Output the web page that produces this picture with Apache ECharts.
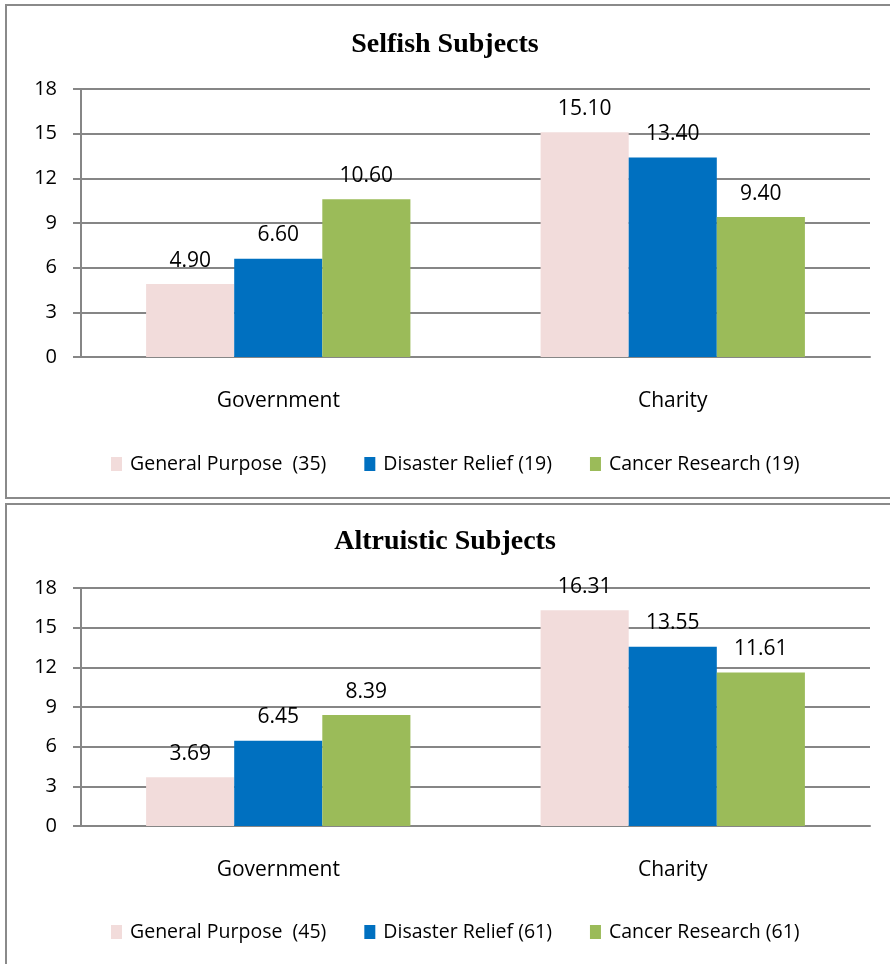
<!DOCTYPE html>
<html>
<head>
<meta charset="utf-8">
<script src="https://cdn.jsdelivr.net/npm/echarts@6/dist/echarts.min.js"></script>
<style>
  html, body { margin: 0; padding: 0; background: #fff; }
  body { width: 890px; height: 964px; position: relative; overflow: hidden; }
  .panel { position: absolute; border: 2px solid #8a8a8a; box-sizing: border-box; background: #fff; }
  #p1 { left: 5px; top: 4px; width: 940px; height: 495px; }
  #p2 { left: 5px; top: 503px; width: 940px; height: 480px; }
  #chart { position: absolute; left: 0; top: 0; width: 890px; height: 964px; }
</style>
</head>
<body>
<div class="panel" id="p1"></div>
<div class="panel" id="p2"></div>
<div id="chart"></div>
<script>
const categories = ['Government', 'Charity'];
const yTicks = { min: 0, max: 18, interval: 3 };

const selfishTitle = 'Selfish Subjects';
const selfishNames = ['General Purpose  (35)', 'Disaster Relief (19)', 'Cancer Research (19)'];
const selfishGeneral = [4.90, 15.10];
const selfishDisaster = [6.60, 13.40];
const selfishCancer = [10.60, 9.40];

const altruTitle = 'Altruistic Subjects';
const altruNames = ['General Purpose  (45)', 'Disaster Relief (61)', 'Cancer Research (61)'];
const altruGeneral = [3.69, 16.31];
const altruDisaster = [6.45, 13.55];
const altruCancer = [8.39, 11.61];

const colors = ['#F2DCDB', '#0070C0', '#9BBB59'];
const gridColor = '#868686';
const font = 'Open Sans';

function xAxis(gi) {
  return {
    type: 'category', gridIndex: gi, data: categories,
    axisLine: { show: true, lineStyle: { color: gridColor, width: 2 } },
    axisTick: { show: false },
    axisLabel: { color: '#000', fontSize: 21, fontFamily: font, margin: 34 }
  };
}
function yAxis(gi) {
  return {
    type: 'value', gridIndex: gi, min: yTicks.min, max: yTicks.max, interval: yTicks.interval,
    axisLine: { show: true, lineStyle: { color: gridColor, width: 2 } },
    axisTick: { show: true, length: 8, lineStyle: { color: gridColor, width: 2 } },
    splitLine: { show: true, lineStyle: { color: gridColor, width: 2 } },
    axisLabel: { color: '#000', fontSize: 20, fontFamily: font, margin: 24 }
  };
}
function bar(name, data, ci, gi) {
  return {
    type: 'bar', name: name, data: data, xAxisIndex: gi, yAxisIndex: gi,
    barGap: '0%', barCategoryGap: '33%',
    itemStyle: { color: colors[ci] },
    label: {
      show: true, position: 'top', distance: 13, color: '#000',
      fontSize: 21, fontFamily: font,
      formatter: p => p.value.toFixed(2)
    },
    emphasis: { disabled: true }
  };
}
function legend(names, top) {
  return {
    data: names, top: top, left: 106, itemGap: 38, itemWidth: 11, itemHeight: 14,
    icon: 'rect',
    textStyle: { color: '#000', fontSize: 19.5, fontFamily: font, padding: [0, 0, 0, 3] }
  };
}

const chart = echarts.init(document.getElementById('chart'), null, { renderer: 'canvas' });
chart.setOption({
  animation: false,
  backgroundColor: 'transparent',
  title: [
    { text: selfishTitle, left: 'center', top: 26,
      textStyle: { fontFamily: 'Liberation Serif', fontWeight: 'bold', fontSize: 28, color: '#000' } },
    { text: altruTitle, left: 'center', top: 523,
      textStyle: { fontFamily: 'Liberation Serif', fontWeight: 'bold', fontSize: 28, color: '#000' } }
  ],
  legend: [legend(selfishNames, 449), legend(altruNames, 917)],
  grid: [
    { left: 81, right: 20, top: 89, height: 268 },
    { left: 81, right: 20, top: 588, height: 238 }
  ],
  xAxis: [xAxis(0), xAxis(1)],
  yAxis: [yAxis(0), yAxis(1)],
  series: [
    bar(selfishNames[0], selfishGeneral, 0, 0),
    bar(selfishNames[1], selfishDisaster, 1, 0),
    bar(selfishNames[2], selfishCancer, 2, 0),
    bar(altruNames[0], altruGeneral, 0, 1),
    bar(altruNames[1], altruDisaster, 1, 1),
    bar(altruNames[2], altruCancer, 2, 1)
  ]
});
</script>
</body>
</html>
